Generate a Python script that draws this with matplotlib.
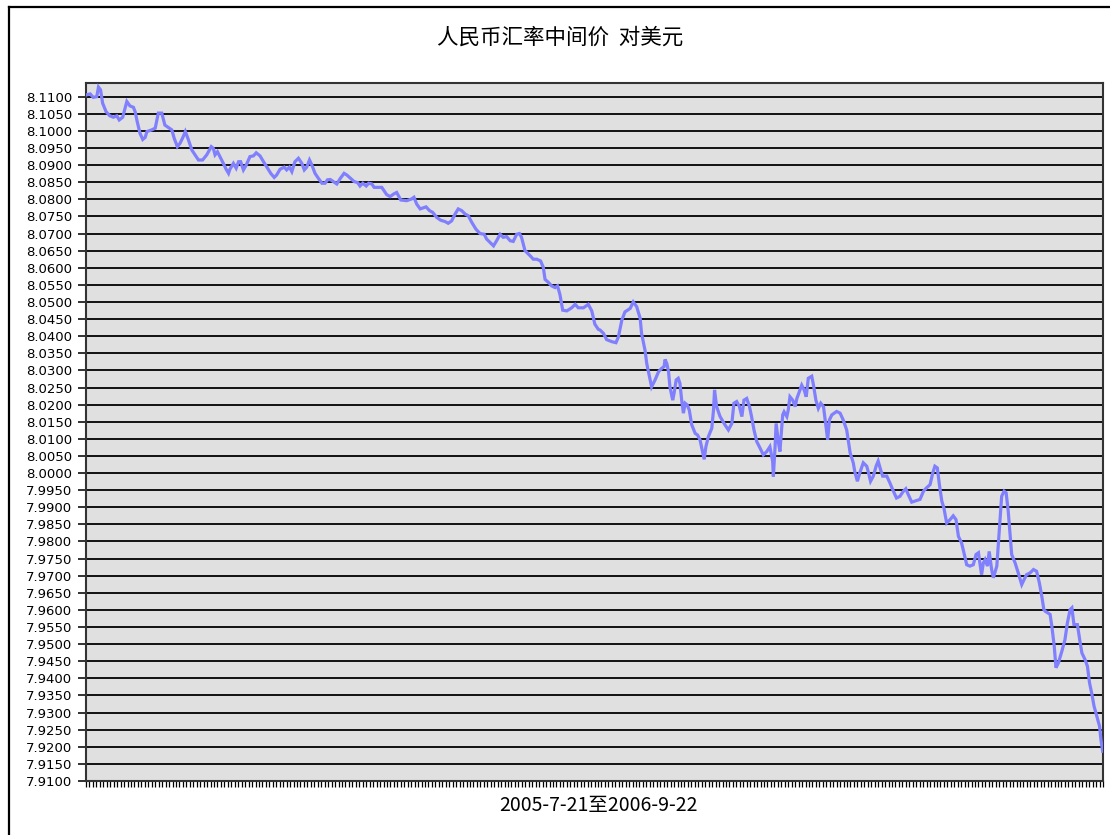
import numpy as np
from matplotlib import pyplot as plt
from matplotlib.lines import Line2D

plt.rcParams['font.family'] = ['Noto Sans CJK SC', 'DejaVu Sans']

titleText = '人民币汇率中间价  对美元'
xLabelText = '2005-7-21至2006-9-22'
nDays = 295  # trading days on the category axis

# position of each reading along the trading-day axis
dayPos = [
    0.0, 1.2, 2.1, 3.1, 3.6, 4.2, 4.8, 5.8, 6.9, 7.9, 8.9, 9.6, 10.6, 11.8, 12.7,
    13.7, 14.2, 14.8, 15.6, 16.4, 17.1, 17.6, 19.0, 20.0, 20.9, 21.9, 22.8, 24.1,
    24.8, 25.5, 26.4, 27.2, 28.0, 28.7, 29.6, 30.6, 31.5, 32.5, 33.7, 34.9, 36.2,
    36.8, 37.3, 38.0, 38.8, 39.7, 40.5, 41.2, 41.6, 42.6, 43.4, 44.1, 44.7, 45.5,
    46.3, 47.4, 48.4, 49.2, 50.3, 51.3, 52.3, 53.4, 54.4, 55.1, 56.1, 57.3, 58.0,
    58.8, 59.5, 60.4, 61.4, 62.4, 63.1, 63.8, 64.6, 65.3, 66.2, 67.2, 68.2, 69.1,
    69.8, 70.6, 71.5, 72.5, 73.5, 74.6, 75.4, 76.5, 77.5, 78.5, 79.2, 80.0, 81.0,
    81.7, 82.6, 83.3, 84.6,
    85.5, 86.9, 87.9, 89.0, 89.8, 91.0, 92.7, 94.1, 94.8, 95.6, 96.6, 97.5, 98.3,
    99.3, 100.2, 101.4, 102.5, 103.8, 104.7, 105.7, 106.7, 107.6, 108.6, 109.6,
    110.5, 111.5, 112.7, 113.9, 115.1, 115.8, 116.8, 117.8, 118.7, 119.7, 120.6,
    121.6, 122.6, 123.5, 124.5, 125.3, 125.9, 126.9, 128.4, 129.3, 130.3, 131.4,
    132.2, 132.7, 133.7, 134.6, 135.6, 136.3, 137.0, 137.8, 139.0, 140.4, 141.4,
    142.3, 143.8, 145.2, 146.2, 147.1, 148.1,
    148.6, 149.6, 150.5, 152.0, 153.2, 153.9, 154.9, 155.8, 157.3, 158.2, 159.2,
    160.2, 160.6, 161.6, 162.1, 162.9, 163.5, 164.5, 165.5, 166.4, 167.1, 167.4,
    167.9, 168.4, 168.8, 169.6, 170.0, 170.6, 171.2, 171.7, 172.2, 172.7, 173.2,
    173.8, 174.4, 175.1, 176.1, 176.8, 177.5, 178.1, 178.7, 179.2, 179.9, 180.9,
    181.4, 181.7, 182.3, 183.3, 184.7, 185.7, 186.7, 187.3, 188.1, 188.9, 189.6,
    190.2, 191.0, 191.8, 192.4, 193.1, 193.9, 194.9, 195.8, 196.8, 197.7, 198.5,
    198.7, 199.2, 199.5, 200.2, 200.6, 201.4, 201.8, 202.6, 203.0, 203.5, 204.3,
    205.0, 205.5, 206.4, 206.9, 207.6, 208.2, 208.8, 209.8, 210.3, 211.0, 211.7,
    212.4, 213.2, 213.9, 214.4, 214.9, 215.6, 217.0, 218.0, 218.9, 219.9,
    220.9, 221.8, 222.3, 223.0, 223.7, 224.7, 225.7, 226.2, 226.8, 227.6, 228.4,
    229.0, 229.7, 230.3, 231.5, 232.4, 233.4, 234.3, 235.3, 236.3, 237.0, 237.7,
    238.7, 239.6, 241.1, 242.1, 243.0, 244.0, 244.8, 245.4, 246.1, 246.7, 247.4,
    248.0, 248.8, 249.8, 250.7, 251.5, 252.2, 253.1, 253.8, 254.6, 255.5, 256.5,
    257.3, 258.0, 258.4, 258.9, 259.4, 259.9, 260.6, 261.1, 261.8, 262.3, 263.3,
    263.7, 264.2, 264.7, 265.4, 266.0, 266.6, 267.1, 267.6, 268.6, 269.5, 270.5,
    271.2, 271.9, 272.9, 273.9, 274.8, 275.6, 276.3, 276.9,
    277.3, 278.7, 279.2, 279.9, 280.4, 281.1, 282.1, 283.0, 283.7, 284.5, 285.0,
    285.6, 286.6, 287.4, 287.9, 288.8, 289.5, 290.1, 290.8, 291.4, 292.2, 293.0,
    293.4, 293.9,
]

# central parity, CNY per USD
rate = [
    8.1105, 8.1108, 8.1098, 8.1100, 8.1128, 8.1120, 8.1081, 8.1056, 8.1044, 8.1040,
    8.1044, 8.1032, 8.1040, 8.1086, 8.1073, 8.1069, 8.1056, 8.1027, 8.0993, 8.0975,
    8.0981, 8.0998, 8.1003, 8.1008, 8.1052, 8.1052, 8.1017, 8.1008, 8.1003, 8.0978,
    8.0954, 8.0964, 8.0981, 8.0998, 8.0974, 8.0944, 8.0930, 8.0915, 8.0915, 8.0930,
    8.0954, 8.0949, 8.0930, 8.0939, 8.0923, 8.0905, 8.0888, 8.0876, 8.0888, 8.0905,
    8.0891, 8.0910, 8.0910, 8.0886, 8.0900, 8.0925, 8.0927, 8.0936, 8.0927, 8.0910,
    8.0894, 8.0876, 8.0864, 8.0871, 8.0888, 8.0894, 8.0886, 8.0894, 8.0881, 8.0910,
    8.0920, 8.0905, 8.0886, 8.0894, 8.0915, 8.0900, 8.0876, 8.0861, 8.0847, 8.0847,
    8.0857, 8.0858, 8.0852, 8.0845, 8.0861, 8.0876, 8.0871, 8.0861, 8.0852, 8.0849,
    8.0839, 8.0847, 8.0839, 8.0847, 8.0845, 8.0835, 8.0835,
    8.0835, 8.0814, 8.0808, 8.0816, 8.0820, 8.0798, 8.0796, 8.0801, 8.0806, 8.0786,
    8.0772, 8.0775, 8.0778, 8.0767, 8.0762, 8.0747, 8.0739, 8.0735, 8.0730, 8.0737,
    8.0757, 8.0772, 8.0767, 8.0757, 8.0752, 8.0733, 8.0713, 8.0700, 8.0698, 8.0684,
    8.0674, 8.0664, 8.0679, 8.0698, 8.0689, 8.0691, 8.0679, 8.0677, 8.0698, 8.0700,
    8.0689, 8.0650, 8.0635, 8.0625, 8.0625, 8.0620, 8.0601, 8.0566, 8.0557, 8.0547,
    8.0542, 8.0547, 8.0522, 8.0476, 8.0474, 8.0483, 8.0493, 8.0483, 8.0483, 8.0493,
    8.0474, 8.0435, 8.0420,
    8.0418, 8.0408, 8.0390, 8.0384, 8.0381, 8.0398, 8.0447, 8.0471, 8.0481, 8.0500,
    8.0486, 8.0452, 8.0408, 8.0359, 8.0320, 8.0281, 8.0252, 8.0272, 8.0296, 8.0306,
    8.0311, 8.0332, 8.0320, 8.0296, 8.0252, 8.0213, 8.0233, 8.0272, 8.0277, 8.0262,
    8.0213, 8.0175, 8.0204, 8.0199, 8.0184, 8.0141, 8.0116, 8.0111, 8.0097, 8.0068,
    8.0040, 8.0077, 8.0106, 8.0131, 8.0184, 8.0243, 8.0194, 8.0165, 8.0141, 8.0126,
    8.0145, 8.0204, 8.0209, 8.0194, 8.0165, 8.0213, 8.0218, 8.0194, 8.0165, 8.0126,
    8.0092, 8.0072, 8.0053, 8.0063, 8.0077, 8.0034, 7.9990, 8.0077, 8.0145, 8.0087,
    8.0063, 8.0170, 8.0179, 8.0165, 8.0184, 8.0223, 8.0213, 8.0194, 8.0218, 8.0243,
    8.0257, 8.0243, 8.0223, 8.0277, 8.0283, 8.0257, 8.0213, 8.0189, 8.0204, 8.0194,
    8.0136, 8.0097, 8.0155, 8.0170, 8.0180, 8.0175, 8.0155, 8.0126,
    8.0059, 8.0030, 8.0001, 7.9976, 8.0001, 8.0030, 8.0020, 8.0001, 7.9976, 7.9991,
    8.0020, 8.0035, 8.0010, 7.9991, 7.9991, 7.9971, 7.9947, 7.9927, 7.9932, 7.9947,
    7.9954, 7.9937, 7.9915, 7.9918, 7.9923, 7.9947, 7.9957, 7.9966, 8.0001, 8.0020,
    8.0015, 7.9966, 7.9918, 7.9898, 7.9854, 7.9864, 7.9875, 7.9864, 7.9815, 7.9796,
    7.9767, 7.9732, 7.9728, 7.9732, 7.9762, 7.9767, 7.9737, 7.9703, 7.9737, 7.9747,
    7.9728, 7.9771, 7.9718, 7.9694, 7.9728, 7.9786, 7.9854, 7.9932, 7.9947, 7.9942,
    7.9888, 7.9825, 7.9762, 7.9737, 7.9708, 7.9674, 7.9689, 7.9703, 7.9708, 7.9718,
    7.9713, 7.9679, 7.9640, 7.9601,
    7.9596, 7.9587, 7.9553, 7.9494, 7.9431, 7.9445, 7.9479, 7.9513, 7.9562, 7.9601,
    7.9606, 7.9557, 7.9557, 7.9504, 7.9474, 7.9455, 7.9435, 7.9387, 7.9353, 7.9319,
    7.9289, 7.9260, 7.9221, 7.9187,
]

yMin = 7.91
yMax = 8.11
yStep = 0.005


fig = plt.figure(figsize=(11.1, 8.35), dpi=100)
ax = fig.add_axes([0.0775, 0.0647, 0.9162, 0.8359])
ax.set_facecolor('#e0e0e0')

ax.plot(dayPos, rate, color='#8080ff', linewidth=2.3, solid_joinstyle='miter', zorder=3)

ax.set_xlim(0, nDays - 1)
ax.set_ylim(yMin, 8.114)

# one tick per trading day, no labels, like the old spreadsheet chart
ax.set_xticks(np.arange(nDays))
ax.set_xticklabels([])
ax.tick_params(axis='x', direction='out', length=4, width=0.9, color='black')

yTicks = np.round(np.arange(yMin, yMax + yStep / 2, yStep), 4)
ax.set_yticks(yTicks)
ax.set_yticklabels(['%.4f' % v for v in yTicks], fontsize=9.5, family='DejaVu Sans')
ax.tick_params(axis='y', direction='out', length=6, width=1.3, color='#222222', pad=4)

ax.yaxis.grid(True, color='#111111', linewidth=1.4)
ax.set_axisbelow(True)
for side in ['left', 'right', 'top', 'bottom']:
    ax.spines[side].set_color('#333333')
    ax.spines[side].set_linewidth(1.5)

fig.text(0.505, 1 - 38 / 835, titleText, ha='center', va='center', fontsize=15.5)
fig.text(598 / 1110, 1 - 806 / 835, xLabelText, ha='center', va='center', fontsize=14)

# black frame around the whole chart (only left and top edges show)
fig.add_artist(Line2D([9 / 1110, 9 / 1110], [0, 1 - 7 / 835], transform=fig.transFigure,
                      color='black', linewidth=1.6))
fig.add_artist(Line2D([9 / 1110, 1], [1 - 7 / 835, 1 - 7 / 835], transform=fig.transFigure,
                      color='black', linewidth=1.6))

fig.savefig('out.png', dpi=100)
